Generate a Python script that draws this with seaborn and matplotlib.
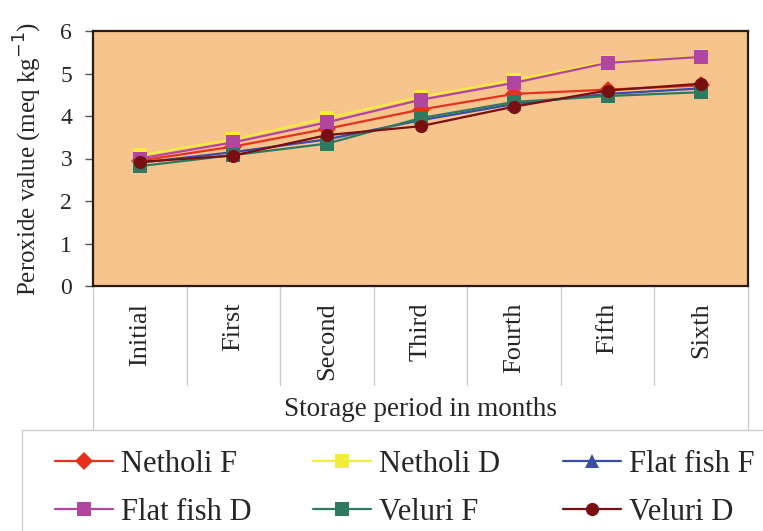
import numpy as np
import pandas as pd
import seaborn as sns
import matplotlib.pyplot as plt
from matplotlib.lines import Line2D

months = ['Initial', 'First', 'Second', 'Third', 'Fourth', 'Fifth', 'Sixth']

netholi_f = [2.95, 3.28, 3.70, 4.15, 4.52, 4.62, 4.72]
netholi_d = [3.08, 3.45, 3.95, 4.45, 4.85, 5.27, 5.40]
flatfish_f = [2.90, 3.15, 3.45, 3.90, 4.28, 4.52, 4.65]
flatfish_d = [3.00, 3.38, 3.85, 4.38, 4.78, 5.25, 5.39]
veluri_f = [2.82, 3.08, 3.35, 3.95, 4.33, 4.47, 4.56]
veluri_d = [2.92, 3.07, 3.55, 3.76, 4.22, 4.60, 4.76]

series_names = ['Netholi F', 'Netholi D', 'Flat fish F', 'Flat fish D', 'Veluri F', 'Veluri D']
series_values = [netholi_f, netholi_d, flatfish_f, flatfish_d, veluri_f, veluri_d]
series_colors = ['#E8301E', '#F2EC3A', '#3A4CA8', '#B0469E', '#2E7A60', '#7A0F12']
series_markers = ['D', 's', '^', 's', 's', 'o']

rows = []
for name, vals in zip(series_names, series_values):
    for m, v in zip(months, vals):
        rows.append({'month': m, 'value': v, 'series': name})
df = pd.DataFrame(rows)

sns.set_theme(style='white')
plt.rcParams['font.family'] = ['Liberation Serif', 'DejaVu Serif']

W, H = 763, 531
fig = plt.figure(figsize=(W / 100, H / 100), dpi=100)
ax_left, ax_right, ax_top, ax_bottom = 93, 748, 31, 286
ax = fig.add_axes([ax_left / W, 1 - ax_bottom / H, (ax_right - ax_left) / W, (ax_bottom - ax_top) / H])

palette = dict(zip(series_names, series_colors))
markers = dict(zip(series_names, series_markers))
sns.lineplot(data=df, x='month', y='value', hue='series', style='series',
             palette=palette, markers=markers, dashes=False, sort=False,
             markersize=9.5, linewidth=1.6, markeredgewidth=0, legend=False, ax=ax)

ax.set_facecolor('#F8C48E')
ax.set_xlim(-0.5, 6.5)
ax.set_ylim(0, 6)
ax.set_yticks(range(0, 7))
ax.tick_params(axis='y', labelsize=17, length=6, width=1, color='#555555', left=True, pad=9)
ax.tick_params(axis='x', labelsize=19, length=0, pad=12)
ax.set_xticks(range(len(months)))
ax.set_xticklabels(months, rotation=90, va='top')
for s in ax.spines.values():
    s.set_color('#2a1a10')
    s.set_linewidth(1.6)

ax.set_xlabel('Storage period in months', fontsize=19.5, labelpad=12)
ax.set_ylabel('Peroxide value (meq kg$^{-1}$)', fontsize=18)
ax.yaxis.set_label_coords(-0.075, 0.5)

# category separators below the axis
axh = ax_bottom - ax_top
for b in np.arange(0.5, 6.5, 1):
    ax.plot([b, b], [0, -(385 - ax_bottom) / axh], transform=ax.get_xaxis_transform(),
            clip_on=False, color='#cccccc', lw=1)
for b in [-0.5, 6.5]:
    ax.plot([b, b], [0, -(430 - ax_bottom) / axh], transform=ax.get_xaxis_transform(),
            clip_on=False, color='#cccccc', lw=1)

# legend box edges
fig.add_artist(Line2D([22 / W, 1], [1 - 430 / H, 1 - 430 / H], transform=fig.transFigure, color='#cccccc', lw=1))
fig.add_artist(Line2D([22 / W, 22 / W], [0, 1 - 430 / H], transform=fig.transFigure, color='#cccccc', lw=1))

handles = [Line2D([], [], color=c, marker=mk, markersize=9.5, markeredgewidth=0, lw=1.6)
           for c, mk in zip(series_colors, series_markers)]
col_x = [55, 313, 563]
for j, x in enumerate(col_x):
    idx = [j, j + 3]
    fig.legend([handles[i] for i in idx], [series_names[i] for i in idx],
               loc='upper left', bbox_to_anchor=(x / W, 1 - 450 / H), frameon=False,
               fontsize=22, handlelength=1.9, handletextpad=0.25, borderpad=0,
               labelspacing=0.62, borderaxespad=0)

fig.savefig('out.png', dpi=100)
